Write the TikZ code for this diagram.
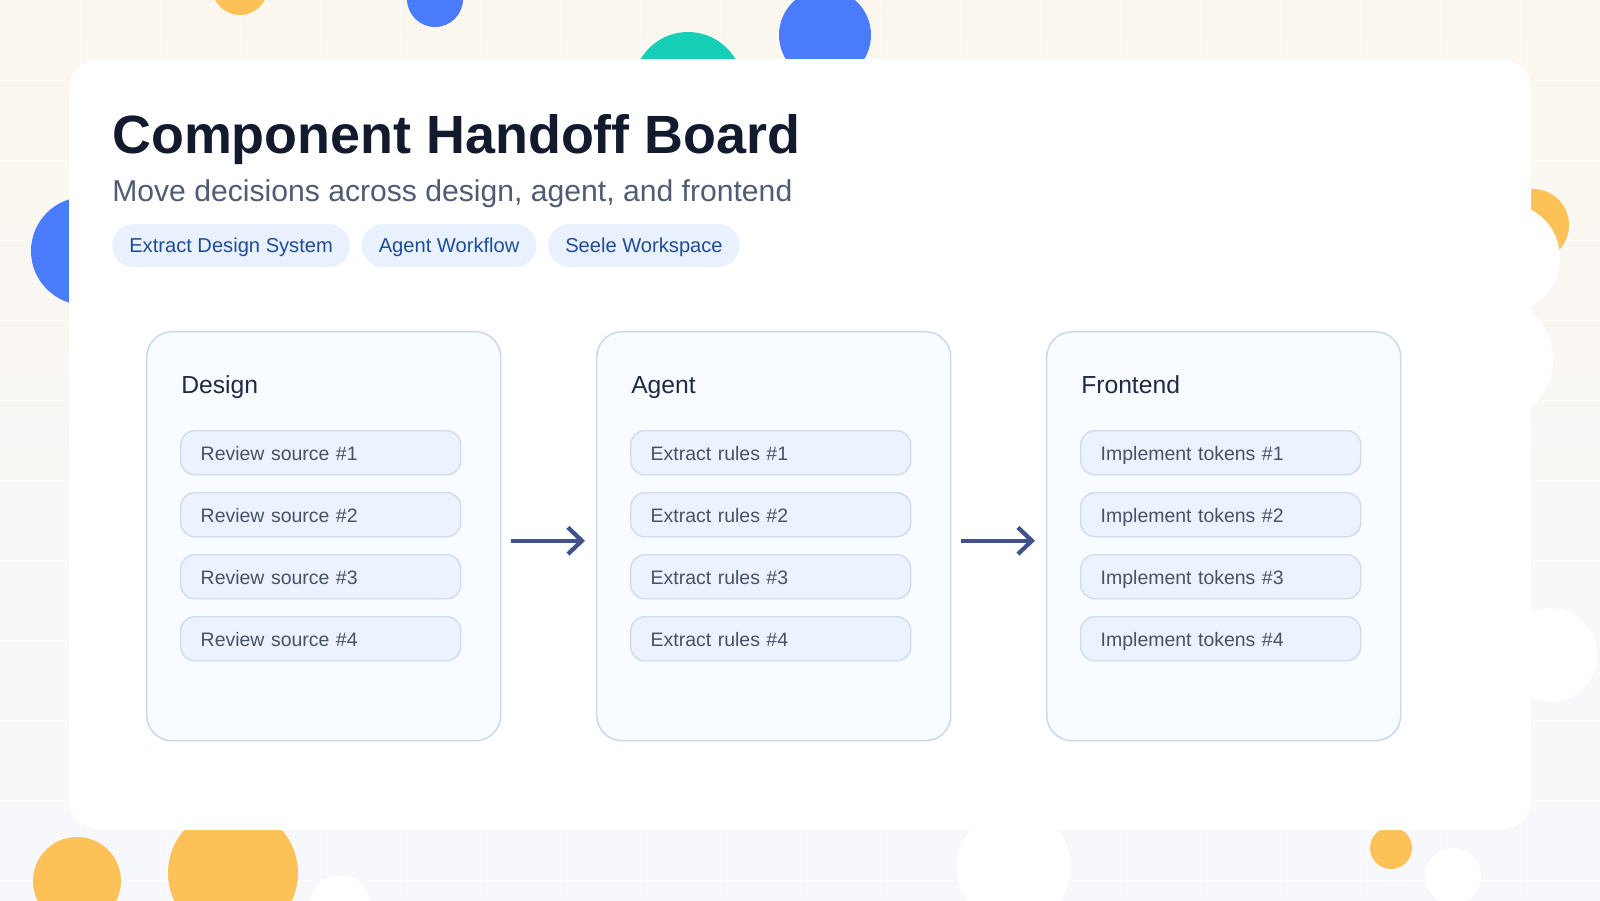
\documentclass[tikz,border=0pt]{standalone}
\usepackage{fontspec}
\setmainfont{Liberation Sans}
\usetikzlibrary{positioning,arrows.meta}

\definecolor{ink}{HTML}{121A2D}
\definecolor{sub}{HTML}{505C74}
\definecolor{chipbg}{HTML}{E8F1FD}
\definecolor{chiptx}{HTML}{1F4C99}
\definecolor{lanebg}{HTML}{F8FBFF}
\definecolor{laneln}{HTML}{C9D8EE}
\definecolor{itembg}{HTML}{EDF3FE}
\definecolor{itemln}{HTML}{D0DCF0}
\definecolor{itemtx}{HTML}{465268}
\definecolor{headtx}{HTML}{1F2A44}
\definecolor{flow}{HTML}{3F5289}
\definecolor{bgtop}{HTML}{FCF7EE}
\definecolor{bgbot}{HTML}{F6F8FC}
\definecolor{dotY}{HTML}{FDC257}
\definecolor{dotB}{HTML}{4A7BFB}
\definecolor{dotT}{HTML}{16CFB6}

\tikzset{
  chip/.style={fill=chipbg, text=chiptx, rounded corners=16pt, inner xsep=12.75pt,
    inner ysep=0pt, minimum height=32.25pt, text height=10.8pt, text depth=0pt,
    font=\fontsize{15.1}{18}\selectfont},
  lane/.style={draw=laneln, line width=1.1pt, fill=lanebg, rounded corners=19pt,
    minimum width=265.5pt, minimum height=306.75pt, anchor=north west},
  head/.style={anchor=base west, text=headtx, inner sep=0pt, font=\fontsize{18.5}{22}\selectfont},
  item/.style={draw=itemln, line width=1.1pt, fill=itembg, rounded corners=10.5pt,
    minimum height=33pt, text width=180pt, text height=11pt, text depth=0pt,
    inner xsep=15pt, align=left, anchor=north west, text=itemtx,
    font=\fontsize{14.6}{17}\selectfont},
  flowarrow/.style={draw=flow, line width=3.2pt, -{Straight Barb[length=10.5pt,width=20pt]}},
  gridln/.style={white, opacity=0.55, line width=0.6pt}
}

\begin{document}
\begin{tikzpicture}[x=0.75pt,y=-0.75pt]
  \useasboundingbox (0,0) rectangle (1600,900);
  \shade[top color=bgtop, bottom color=bgbot] (0,0) rectangle (1600,900);
  \foreach \g in {80,160,...,1520} \draw[gridln] (\g,0) -- (\g,900);
  \foreach \g in {80,160,...,880} \draw[gridln] (0,\g) -- (1600,\g);

  % dots behind the board
  \foreach \cx/\cy/\r/\c in {240/-13/28/dotY, 435/-1/28/dotB, 688/87/55/dotT,
      825/35/46/dotB, 85/251/54/dotB, 1533/225/36/dotY, 1505/258/55/white,
      1490/360/63/white, 1550/655/47/white, 77/881/44/dotY, 233/873/65/dotY,
      340/905/30/white, 1014/867/57/white, 1391/848/21/dotY, 1453/876/28/white}
    \fill[\c] (\cx,\cy) circle[radius=\r*0.75pt];

  \fill[white, rounded corners=22.5pt] (69,59) rectangle (1531,830);

  \node[anchor=base west, inner sep=0pt, text=ink, font=\fontsize{40.4}{48}\selectfont\bfseries]
    (t) at (112,153) {Component Handoff Board};
  \node[anchor=base west, inner sep=0pt, text=sub, font=\fontsize{22.6}{26}\selectfont]
    (s) at (112,201) {Move decisions across design, agent, and frontend};

  \node[chip, anchor=west] (c1) at (112,245.5) {Extract Design System};
  \node[chip, right=8.5pt of c1] (c2) {Agent Workflow};
  \node[chip, right=8.5pt of c2] (c3) {Seele Workspace};

  \foreach \n/\x/\t/\w in {d/146/Design/Review source, a/596/Agent/Extract rules,
      f/1046/Frontend/Implement tokens} {
    \node[lane] (\n) at (\x,331) {};
    \node[head] (\n h) at (\x+35,393) {\t};
    \foreach \i in {1,...,4}
      \node[item] (\n\i) at (\x+34,430+62*\i-62) {\w\ \#\i};
  }

  \draw[flowarrow] ([xshift=7.5pt,yshift=-3.4pt]d.east) -- ([xshift=-8.25pt,yshift=-3.4pt]a.west);
  \draw[flowarrow] ([xshift=7.5pt,yshift=-3.4pt]a.east) -- ([xshift=-8.25pt,yshift=-3.4pt]f.west);
\end{tikzpicture}
\end{document}
